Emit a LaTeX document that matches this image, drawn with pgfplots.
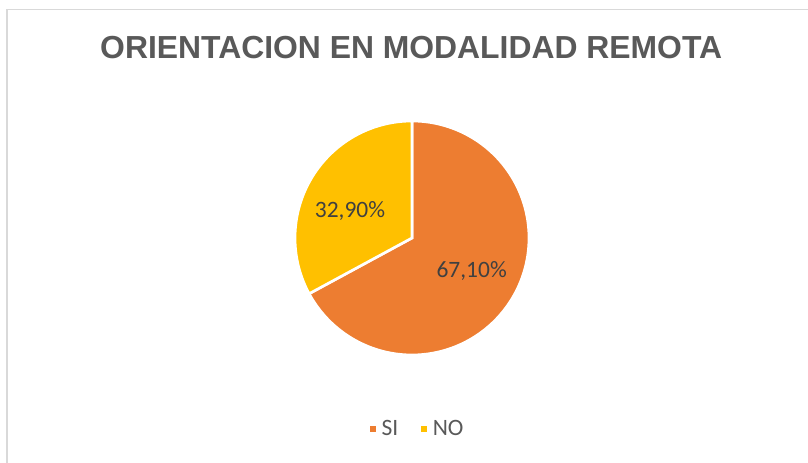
\documentclass[border=0pt]{standalone}
\usepackage{pgfplots}
\pgfplotsset{compat=1.18}
\usepackage{fontspec}
\setmainfont{Liberation Sans}
\newfontfamily\carlito{Carlito}
\definecolor{orangeC}{HTML}{ED7D31}
\definecolor{yellowC}{HTML}{FFC000}
\definecolor{titleC}{HTML}{595959}
\definecolor{labelC}{HTML}{404040}
\definecolor{frameC}{HTML}{D9D9D9}
\begin{document}
\begin{tikzpicture}
\useasboundingbox (0,0) rectangle (606pt,347.25pt);
\fill[white] (0,0) rectangle (606pt,347.25pt);
\draw[frameC, line width=1.1pt] (5.25pt,0pt) -- (5.25pt,340.1pt) -- (606pt,340.1pt);
\node[anchor=base, text=titleC, font=\fontsize{23.9pt}{28pt}\selectfont\bfseries] at (308.4pt,303.5pt) {ORIENTACION EN MODALIDAD REMOTA};
\pgfmathsetmacro{\valSI}{67.1}
\pgfmathsetmacro{\valNO}{32.9}
\pgfmathsetmacro{\aA}{90}
\pgfmathsetmacro{\aB}{90-3.6*\valSI}
\pgfmathsetmacro{\aC}{\aB-3.6*\valNO}
\begin{axis}[
  at={(309pt,168.75pt)}, anchor=origin,
  x=87.75pt, y=87.75pt,
  xmin=-1.1, xmax=1.1, ymin=-1.1, ymax=1.1,
  hide axis, clip=false,
  legend columns=2,
  legend image code/.code={\fill[#1] (0pt,-3.4pt) rectangle (6.8pt,3.4pt);},
  legend style={at={(axis cs:0.04,-1.63)}, anchor=center, draw=none, fill=none,
    font=\carlito\fontsize{17.6pt}{20pt}\selectfont, text=titleC,
    /tikz/every even column/.append style={column sep=13pt}},
]
\addplot[fill=orangeC, draw=white, line width=2pt, domain=\aA:\aB, samples=150, variable=\t]
  ({cos(\t)},{sin(\t)}) -- (axis cs:0,0) -- cycle;
\addlegendentry{SI}
\addplot[fill=yellowC, draw=white, line width=2pt, domain=\aB:\aC, samples=100, variable=\t]
  ({cos(\t)},{sin(\t)}) -- (axis cs:0,0) -- cycle;
\addlegendentry{NO}
\node[text=labelC, font=\carlito\fontsize{17.6pt}{20pt}\selectfont] at (axis cs:-0.53,0.23) {32,90\%};
\node[text=labelC, font=\carlito\fontsize{17.6pt}{20pt}\selectfont] at (axis cs:0.51,-0.28) {67,10\%};
\end{axis}
\end{tikzpicture}
\end{document}
